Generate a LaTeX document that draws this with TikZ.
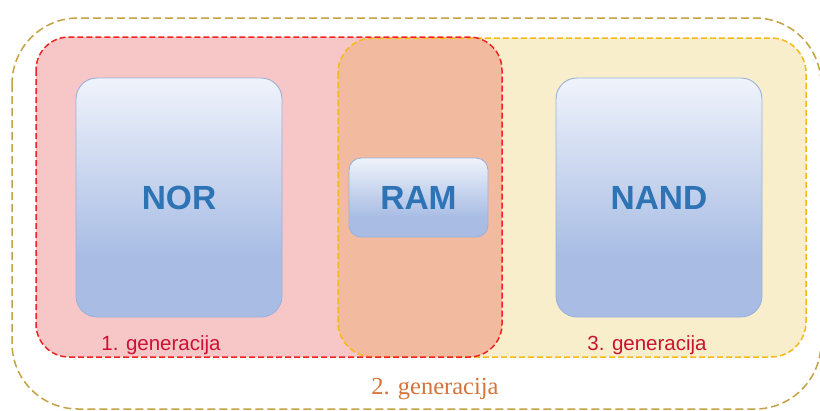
\documentclass[tikz,border=0pt]{standalone}
\usepackage{fontspec}
\setmainfont{Liberation Sans}
\newfontfamily\serifx{Liberation Serif}
\definecolor{pinkfill}{HTML}{F7C6C6}
\definecolor{yelfill}{HTML}{F8EECB}
\definecolor{ovlfill}{HTML}{F2BA9E}
\definecolor{redline}{HTML}{F22222}
\definecolor{yelline}{HTML}{F5BA1A}
\definecolor{outline}{HTML}{C4A244}
\definecolor{boxtext}{HTML}{2E74B5}
\definecolor{boxline}{HTML}{9AB2DD}
\definecolor{boxtop}{HTML}{EFF3FB}
\definecolor{boxbot}{HTML}{A9BDE4}
\definecolor{labred}{HTML}{CC1133}
\definecolor{laborange}{HTML}{D4743A}
\pgfdeclareverticalshading{boxshade}{100bp}{color(0bp)=(boxbot); color(38bp)=(boxbot); color(75bp)=(boxtop); color(100bp)=(boxtop)}
\tikzset{
  bluebox/.style={draw=boxline, line width=0.9pt, shading=boxshade, inner sep=0pt,
    text=boxtext, font=\fontsize{33.5}{36}\selectfont\bfseries},
  genlabel/.style={inner sep=0pt, anchor=base, font=\fontsize{20.5}{24}\selectfont, text=labred},
  regionline/.style={line width=1.5pt, dash pattern=on 6pt off 3pt}
}
\begin{document}
\begin{tikzpicture}[x=1pt,y=-1pt]
\useasboundingbox (0,0) rectangle (820,410);
\fill[white] (0,0) rectangle (820,410);
\begin{scope}
\clip (0,0) rectangle (820,410);
% outer region
\draw[outline, line width=1.5pt, dash pattern=on 8pt off 4pt, rounded corners=66pt] (12,18) rectangle (821,409);
% fills
\fill[pinkfill, rounded corners=33pt] (36,37) rectangle (502,357);
\fill[yelfill, rounded corners=35pt] (338,38) rectangle (806,357);
\begin{scope}
\clip[rounded corners=33pt] (36,37) rectangle (502,357);
\fill[ovlfill, rounded corners=35pt] (338,38) rectangle (806,357);
\end{scope}
% borders
\draw[yelline, regionline, rounded corners=35pt] (338,38) rectangle (806,357);
\draw[redline, regionline, rounded corners=33pt] (36,37) rectangle (502,357);
\end{scope}
% boxes
\node[bluebox, rounded corners=21pt, minimum width=206pt, minimum height=239pt] (nor) at (179,197.5) {NOR};
\node[bluebox, rounded corners=21pt, minimum width=206pt, minimum height=239pt] (nand) at (659,197.5) {NAND};
\node[bluebox, rounded corners=12pt, minimum width=139pt, minimum height=79pt] (ram) at (418.5,197.5) {RAM};
% labels
\node[genlabel] (g1) at (161,350) {1. generacija};
\node[genlabel] (g3) at (647,350) {3. generacija};
\node[genlabel, text=laborange, font=\fontsize{24.5}{28}\serifx] (g2) at (435,394) {2. generacija};
\end{tikzpicture}
\end{document}
